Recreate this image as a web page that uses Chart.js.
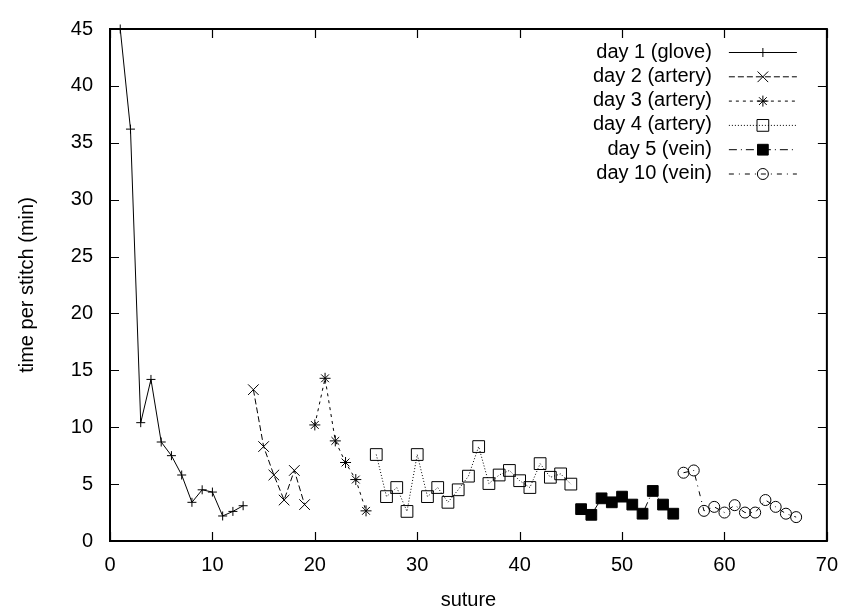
<!DOCTYPE html>
<html>
<head>
<meta charset="utf-8">
<title>time per stitch</title>
<script src="https://cdn.jsdelivr.net/npm/chart.js@4.4.1/dist/chart.umd.min.js"></script>
<style>
  html, body { margin: 0; padding: 0; background: #fff; }
</style>
</head>
<body>
<canvas id="stitch-chart" width="850" height="615"></canvas>
<script>
// suture number and minutes per stitch, one pair of arrays per session
const sutureDay1 = [1, 2, 3, 4, 5, 6, 7, 8, 9, 10, 11, 12, 13];
const timeDay1 = [45, 36.2, 10.4, 14.2, 8.7, 7.5, 5.8, 3.4, 4.5, 4.3, 2.2, 2.6, 3.1];

const sutureDay2 = [14, 15, 16, 17, 18, 19];
const timeDay2 = [13.3, 8.3, 5.8, 3.6, 6.2, 3.2];

const sutureDay3 = [20, 21, 22, 23, 24, 25];
const timeDay3 = [10.2, 14.3, 8.8, 6.9, 5.4, 2.65];

const sutureDay4 = [26, 27, 28, 29, 30, 31, 32, 33, 34, 35, 36, 37, 38, 39, 40, 41, 42, 43, 44, 45];
const timeDay4 = [7.6, 3.9, 4.7, 2.6, 7.6, 3.9, 4.7, 3.4, 4.5, 5.7, 8.3, 5.05, 5.8, 6.2, 5.3, 4.7, 6.8, 5.6, 5.9, 5.0];

const sutureDay5 = [46, 47, 48, 49, 50, 51, 52, 53, 54, 55];
const timeDay5 = [2.8, 2.3, 3.75, 3.4, 3.9, 3.2, 2.4, 4.4, 3.2, 2.4];

const sutureDay10 = [56, 57, 58, 59, 60, 61, 62, 63, 64, 65, 66, 67];
const timeDay10 = [6.0, 6.2, 2.65, 3.0, 2.5, 3.15, 2.5, 2.5, 3.6, 3.0, 2.4, 2.1];

const xTicks = [0, 10, 20, 30, 40, 50, 60, 70];
const yTicks = [0, 5, 10, 15, 20, 25, 30, 35, 40, 45];

const seriesLabels = ['day 1 (glove)', 'day 2 (artery)', 'day 3 (artery)', 'day 4 (artery)', 'day 5 (vein)', 'day 10 (vein)'];

const FONT = '"Liberation Sans", Helvetica, Arial, sans-serif';
const INK = '#000';

const toPoints = (xs, ys) => xs.map((x, i) => ({x: x, y: ys[i]}));

const makeSet = (label, xs, ys, style) => Object.assign({
  label: label,
  data: toPoints(xs, ys),
  showLine: true,
  borderColor: INK,
  borderWidth: 1,
  pointBorderColor: INK,
  pointBorderWidth: 1,
  pointBackgroundColor: 'rgba(0,0,0,0)',
  pointHoverRadius: 0,
}, style);

// gnuplot style frame: border with ticks pointing inwards on all four sides
const framePlugin = {
  id: 'frame',
  afterDatasetsDraw(chart) {
    const {ctx, chartArea: a, scales} = chart;
    const len = 9;
    ctx.save();
    ctx.strokeStyle = INK;
    ctx.setLineDash([]);
    ctx.lineWidth = 1.2;
    ctx.beginPath();
    scales.x.ticks.forEach(t => {
      const px = Math.round(scales.x.getPixelForValue(t.value)) + 0.5;
      ctx.moveTo(px, a.bottom); ctx.lineTo(px, a.bottom - len);
      ctx.moveTo(px, a.top); ctx.lineTo(px, a.top + len);
    });
    scales.y.ticks.forEach(t => {
      const py = Math.round(scales.y.getPixelForValue(t.value)) + 0.5;
      ctx.moveTo(a.left, py); ctx.lineTo(a.left + len, py);
      ctx.moveTo(a.right, py); ctx.lineTo(a.right - len, py);
    });
    ctx.stroke();
    ctx.lineWidth = 2;
    ctx.strokeRect(a.left, a.top, a.right - a.left, a.bottom - a.top);
    ctx.restore();
  }
};

// key in the top right corner: text, then line sample with the marker
const keyPlugin = {
  id: 'key',
  afterDatasetsDraw(chart) {
    const {ctx, chartArea: a} = chart;
    const textRight = a.right - 115;
    const lineStart = a.right - 98;
    const lineEnd = a.right - 30;
    const mid = (lineStart + lineEnd) / 2;
    ctx.save();
    ctx.font = '20px ' + FONT;
    ctx.textAlign = 'right';
    ctx.textBaseline = 'middle';
    chart.data.datasets.forEach((ds, i) => {
      const y = a.top + 23 + i * 24.3;
      ctx.fillStyle = INK;
      ctx.fillText(ds.label, textRight, y);
      ctx.strokeStyle = INK;
      ctx.lineWidth = 1;
      ctx.setLineDash(ds.borderDash || []);
      ctx.beginPath();
      ctx.moveTo(lineStart, y + 0.5);
      ctx.lineTo(lineEnd, y + 0.5);
      ctx.stroke();
      ctx.setLineDash([]);
      ctx.fillStyle = ds.pointBackgroundColor;
      Chart.helpers.drawPoint(ctx, {
        pointStyle: ds.pointStyle,
        radius: ds.pointRadius,
        borderWidth: 1,
        rotation: 0
      }, mid, y + 0.5);
    });
    ctx.restore();
  }
};

new Chart(document.getElementById('stitch-chart'), {
  type: 'scatter',
  data: {
    datasets: [
      makeSet(seriesLabels[0], sutureDay1, timeDay1, {pointStyle: 'cross', pointRadius: 4.5, clip: false}),
      makeSet(seriesLabels[1], sutureDay2, timeDay2, {pointStyle: 'crossRot', pointRadius: 7.5, borderDash: [6, 3]}),
      makeSet(seriesLabels[2], sutureDay3, timeDay3, {pointStyle: 'star', pointRadius: 5.5, borderDash: [3, 4]}),
      makeSet(seriesLabels[3], sutureDay4, timeDay4, {pointStyle: 'rect', pointRadius: 8.3, borderDash: [1, 2]}),
      makeSet(seriesLabels[4], sutureDay5, timeDay5, {pointStyle: 'rect', pointRadius: 7.6, borderDash: [8, 4, 1, 4], pointBackgroundColor: INK}),
      makeSet(seriesLabels[5], sutureDay10, timeDay10, {pointStyle: 'circle', pointRadius: 5.5, borderDash: [5, 5, 1, 5]}),
    ]
  },
  options: {
    responsive: false,
    animation: false,
    events: [],
    layout: {
      padding: {top: 20, right: 17, left: 0, bottom: 0}
    },
    scales: {
      x: {
        type: 'linear',
        min: 0,
        max: 70,
        afterBuildTicks: scale => { scale.ticks = xTicks.map(v => ({value: v})); },
        afterFit: scale => { scale.height = 74; },
        ticks: {
          font: {family: FONT, size: 20},
          color: INK,
          padding: 12,
          maxRotation: 0
        },
        grid: {display: false, drawTicks: false},
        border: {display: false},
        title: {
          display: true,
          text: 'suture',
          color: INK,
          font: {family: FONT, size: 20},
          padding: {top: 0, bottom: 3}
        }
      },
      y: {
        min: 0,
        max: 45,
        afterBuildTicks: scale => { scale.ticks = yTicks.map(v => ({value: v})); },
        afterFit: scale => { scale.width = 110; },
        ticks: {
          font: {family: FONT, size: 20},
          color: INK,
          padding: 17
        },
        grid: {display: false, drawTicks: false},
        border: {display: false},
        title: {
          display: true,
          text: 'time per stitch (min)',
          color: INK,
          font: {family: FONT, size: 20},
          padding: {top: 15, bottom: 0}
        }
      }
    },
    plugins: {
      legend: {display: false},
      tooltip: {enabled: false}
    }
  },
  plugins: [framePlugin, keyPlugin]
});
</script>
</body>
</html>
